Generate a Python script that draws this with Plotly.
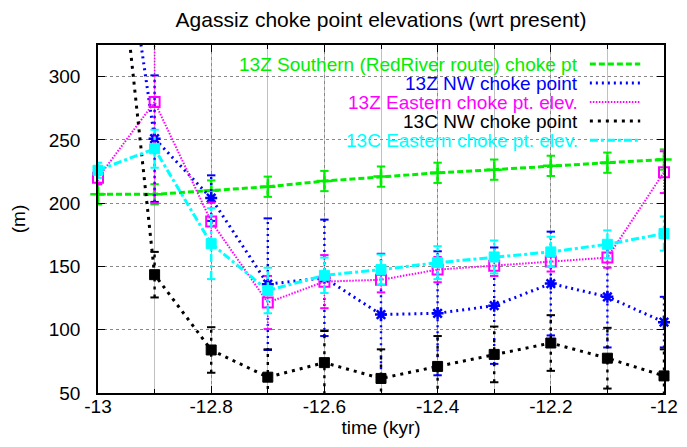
import plotly.graph_objects as go

# ---- data ----
time_kyr = [-13.0, -12.9, -12.8, -12.7, -12.6, -12.5, -12.4, -12.3, -12.2, -12.1, -12.0]

south_13z = [207, 207, 210, 213, 217.5, 221, 224, 226.5, 229.5, 232, 234.5]
south_13z_err = [8, 8, 8, 8, 8, 8, 8, 8, 8, 8, 8]

nw_13z = [560, 251, 204, 136, 141, 112, 113, 119, 136.5, 126, 106]
nw_13z_err = [50, 50, 18, 52, 46, 48, 49, 46, 41, 40, 20]

east_13z = [220, 280, 185.5, 121.5, 138, 139.5, 147.5, 150.5, 154, 157, 224.5]
east_13z_err = [5, 80, 15, 21, 21, 10, 10, 8, 8, 8, 16.5]

nw_13c = [560, 143.5, 84, 62.5, 74, 61.5, 71, 80.5, 89.5, 77.5, 63.5]
nw_13c_err = [20, 18, 18, 22, 25, 23, 24, 22, 22, 24, 21]

east_13c = [226, 243, 168, 131, 143, 147.5, 153, 157.5, 161.5, 167.5, 176]
east_13c_err = [6, 15, 28, 18, 14, 12, 13, 13, 12, 11, 13.5]

series_names = [
    "13Z Southern (RedRiver route) choke pt",
    "13Z NW choke point",
    "13Z Eastern choke pt. elev.",
    "13C NW choke point",
    "13C Eastern choke pt. elev.",
]

x_tick_vals = [-13.0, -12.8, -12.6, -12.4, -12.2, -12.0]
x_tick_text = ["-13", "-12.8", "-12.6", "-12.4", "-12.2", "-12"]
y_tick_vals = [50, 100, 150, 200, 250, 300]
y_tick_text = ["50", "100", "150", "200", "250", "300"]

FONT = "Liberation Sans, Arial, sans-serif"

styles = [
    dict(color="#00ee00", dash="6px,3px", width=3, symbol="cross-thin", msize=11, mlw=2.5),
    dict(color="#0000ff", dash="2px,4px", width=3, symbol="asterisk", msize=10, mlw=2.5),
    dict(color="#ff00ff", dash="1.5px,1.5px", width=2, symbol="square-open", msize=10, mlw=2),
    dict(color="#000000", dash="3px,5px", width=3, symbol="square", msize=10, mlw=1),
    dict(color="#00ffff", dash="8px,3px,3px,3px", width=3, symbol="square", msize=10, mlw=1),
]

all_y = [south_13z, nw_13z, east_13z, nw_13c, east_13c]
all_e = [south_13z_err, nw_13z_err, east_13z_err, nw_13c_err, east_13c_err]

fig = go.Figure()

for name, ys, es, st in zip(series_names, all_y, all_e, styles):
    bx, by, cx, cy = [], [], [], []
    for xv, yv, ev in zip(time_kyr, ys, es):
        bx += [xv, xv, None]
        by += [yv - ev, yv + ev, None]
        cx += [xv, xv]
        cy += [yv - ev, yv + ev]
    fig.add_trace(go.Scatter(
        x=bx, y=by, mode="lines", showlegend=False, hoverinfo="skip",
        line=dict(color=st["color"], dash=st["dash"], width=st["width"] * 0.8),
    ))
    fig.add_trace(go.Scatter(
        x=cx, y=cy, mode="markers", showlegend=False, hoverinfo="skip",
        marker=dict(symbol="line-ew", size=6, line=dict(color=st["color"], width=2)),
    ))
    fig.add_trace(go.Scatter(
        x=time_kyr, y=ys, mode="lines+markers", name=name, showlegend=False,
        cliponaxis=False,
        line=dict(color=st["color"], dash=st["dash"], width=st["width"]),
        marker=dict(symbol=st["symbol"], size=st["msize"], color=st["color"],
                    line=dict(color=st["color"], width=st["mlw"])),
    ))

# key background (blanks grid), drawn between grid and traces
shapes = [
    dict(type="rect", xref="paper", yref="paper", x0=0.252, x1=1, y0=0.819, y1=1,
         fillcolor="white", line=dict(width=0), layer="between"),
    dict(type="rect", xref="paper", yref="paper", x0=0.303, x1=1, y0=0.712, y1=1,
         fillcolor="white", line=dict(width=0), layer="between"),
]

annotations = []
row_py = [56, 75, 94, 113, 132]
for name, st, py in zip(series_names, styles, row_py):
    ry = (384.5 - py) / 347.5
    annotations.append(dict(
        xref="paper", yref="paper", x=0.851, y=ry, xanchor="right", yanchor="middle",
        text=name, showarrow=False, font=dict(family=FONT, size=19, color=st["color"]),
    ))
    shapes.append(dict(
        type="line", xref="paper", yref="paper", x0=0.869, x1=0.958, y0=ry, y1=ry,
        line=dict(color=st["color"], dash=st["dash"], width=st["width"]),
    ))

fig.update_layout(
    width=687, height=447,
    margin=dict(l=90, r=31, t=37, b=62, autoexpand=False),
    plot_bgcolor="white", paper_bgcolor="white",
    font=dict(family=FONT, size=19, color="black"),
    title=dict(text="Agassiz choke point elevations (wrt present)", x=0.5, xref="paper",
               xanchor="center", y=0.974, yref="container", yanchor="middle",
               font=dict(family=FONT, size=21, color="black")),
    showlegend=False,
    shapes=shapes,
    annotations=annotations,
)

fig.update_xaxes(
    range=[-13, -12], tickmode="array", tickvals=x_tick_vals, ticktext=x_tick_text,
    ticks="inside", ticklen=7, tickcolor="black", mirror="ticks",
    showline=True, linecolor="black", linewidth=1.5,
    showgrid=True, gridcolor="#888888", griddash="dot", gridwidth=1,
    zeroline=False, automargin=False,
    minor=dict(tickmode="linear", tick0=-13, dtick=0.1, ticks="inside", ticklen=4,
               tickcolor="black", showgrid=True, gridcolor="#c0c0c0",
               griddash="solid", gridwidth=1),
    title=dict(text="time (kyr)", standoff=2, font=dict(family=FONT, size=19)),
    tickfont=dict(family=FONT, size=19),
    ticklabelstandoff=-5,
)
fig.update_yaxes(
    range=[50, 325], tickmode="array", tickvals=y_tick_vals, ticktext=y_tick_text,
    ticks="inside", ticklen=7, tickcolor="black", mirror="ticks",
    showline=True, linecolor="black", linewidth=1.5,
    showgrid=True, gridcolor="#888888", griddash="dot", gridwidth=1,
    zeroline=False, automargin=False,
    title=dict(text="(m)", standoff=20, font=dict(family=FONT, size=19)),
    tickfont=dict(family=FONT, size=19),
    ticklabelstandoff=12,
)

fig.write_html("out.html")
